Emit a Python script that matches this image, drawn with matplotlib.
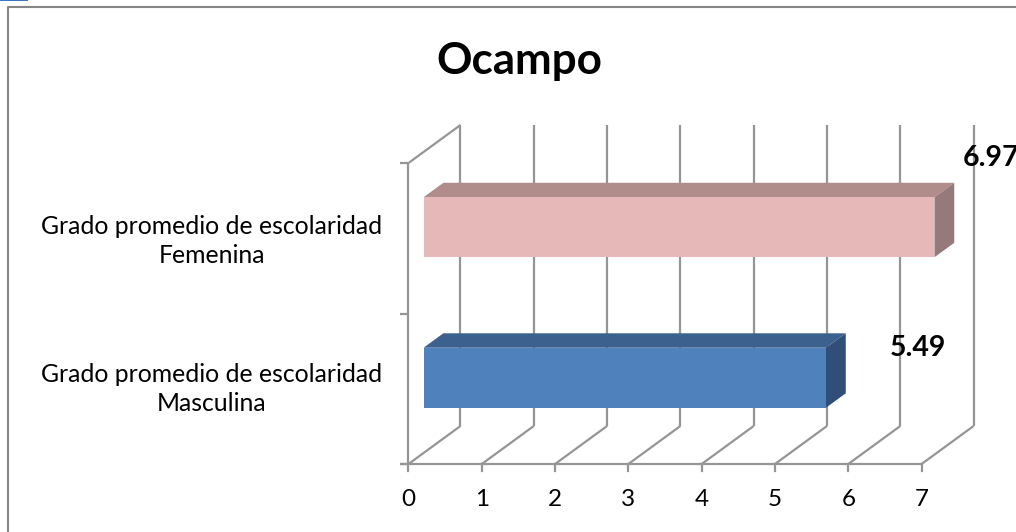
import matplotlib
matplotlib.use('Agg')
import matplotlib.pyplot as plt
from matplotlib.patches import Polygon, Rectangle

# datos del grafico
categorias = ['Grado promedio de escolaridad\nMasculina', 'Grado promedio de escolaridad\nFemenina']
valores = [5.49, 6.97]
etiquetas = ['5.49', '6.97']
ticks_x = [0, 1, 2, 3, 4, 5, 6, 7]
titulo = 'Ocampo'

# colores (frente, arriba, lado)
colores = [('#4F81BD', '#3D618F', '#2F4F79'), ('#E6B8B7', '#B08C8B', '#96797A')]
gris = '#959595'

W, H = 1016, 532
X0, UX = 408.5, 73.3
Y0, UY = 464.0, 150.5
DX, DY = 52.0, 38.0

plt.rcParams['font.family'] = ['Lato', 'DejaVu Sans']
fig = plt.figure(figsize=(W / 100, H / 100), dpi=100)
ax = fig.add_axes([0, 0, 1, 1])
ax.set_xlim(-X0 / UX, (W - X0) / UX)
ax.set_ylim(-(H - Y0) / UY, Y0 / UY)
ax.axis('off')


def proj(v, c, d=0.0):
    # valor, categoria y profundidad (0 frente, 1 fondo) a coordenadas del eje
    return v + d * DX / UX, c + d * DY / UY


def linea(p, q, lw=1.6, color=gris, z=1):
    ax.plot([p[0], q[0]], [p[1], q[1]], color=color, lw=lw, zorder=z, solid_capstyle='butt')


n = len(categorias)
# rejilla
for t in ticks_x:
    linea(proj(t, 0), proj(t, 0, 1))
    linea(proj(t, 0, 1), proj(t, n, 1))
    ax.plot([t, t], [0, -7 / UY], color=gris, lw=1.6, zorder=1)
    ax.text(t, -36 / UY, str(t), ha='center', va='center', fontsize=17.5, color='black')
linea(proj(-8 / UX, 0), proj(ticks_x[-1], 0))
linea(proj(0, 0), proj(0, n))
linea(proj(0, n), proj(0, n, 1))
for c in range(n + 1):
    linea(proj(-8 / UX, c), proj(0, c))

# barras
D1, D2 = 0.29, 0.67
ajuste_cat = [0, -3]
for i, (v, cols) in enumerate(zip(valores, colores)):
    c0 = i + 0.5 - 30 / UY
    c1 = i + 0.5 + 30 / UY
    frente = [proj(0, c0, D1), proj(v, c0, D1), proj(v, c1, D1), proj(0, c1, D1)]
    arriba = [proj(0, c1, D1), proj(v, c1, D1), proj(v, c1, D2), proj(0, c1, D2)]
    lado = [proj(v, c0, D1), proj(v, c0, D2), proj(v, c1, D2), proj(v, c1, D1)]
    ax.add_patch(Polygon(arriba, facecolor=cols[1], edgecolor='none', zorder=3))
    ax.add_patch(Polygon(lado, facecolor=cols[2], edgecolor='none', zorder=3))
    ax.add_patch(Polygon(frente, facecolor=cols[0], edgecolor='none', zorder=4))
    ax.text(-196.5 / UX, i + 0.5 + ajuste_cat[i] / UY, categorias[i], ha='center', va='center', fontsize=17.8,
            color='black', linespacing=1.32)

# etiquetas de datos, movidas a mano como en el original
desp = [(92, 30), (57, 69)]
for i, v in enumerate(valores):
    ax.annotate(etiquetas[i], xy=proj(v, i + 0.5, D1), xytext=desp[i], textcoords='offset pixels',
                ha='center', va='center', fontsize=20.5, fontweight='bold', color='black',
                zorder=5, annotation_clip=False)

ax.text(111 / UX, (Y0 - 61) / UY, titulo, ha='center', va='center', fontsize=31.7, fontweight='bold', color='black')

# marco del grafico y resto azul de la esquina
fig.add_artist(plt.Line2D([8 / W, 8 / W, 1], [0, 1 - 7 / H, 1 - 7 / H], color='#868686', lw=1.5))
fig.add_artist(Rectangle((0, 1 - 1 / H), 28 / W, 1 / H, transform=fig.transFigure, facecolor='#3F74C4', edgecolor='none'))

fig.savefig('out.png', dpi=100)
